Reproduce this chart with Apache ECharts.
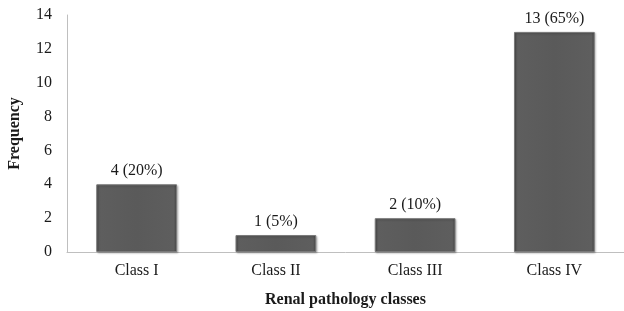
<!DOCTYPE html>
<html>
<head>
<meta charset="utf-8">
<script src="https://cdn.jsdelivr.net/npm/echarts@6/dist/echarts.min.js"></script>
<style>
html,body{margin:0;padding:0;background:#fff;}
#chart{width:624px;height:311px;}
</style>
</head>
<body>
<div id="chart"></div>
<script>
// data
var categories = ["Class I", "Class II", "Class III", "Class IV"];
var counts = [4, 1, 2, 13];
var percents = ["20%", "5%", "10%", "65%"];
var yTicks = [0, 2, 4, 6, 8, 10, 12, 14];

var font = "'Liberation Serif', 'Times New Roman', serif";
var myChart = echarts.init(document.getElementById("chart"));

var option = {
	animation: false,
	grid: {left: 67, right: 0, top: 15, bottom: 59, outerBoundsMode: "none", containLabel: false},
	xAxis: {
		type: "category",
		data: categories,
		name: "Renal pathology classes",
		nameLocation: "middle",
		nameGap: 40,
		nameTextStyle: {fontFamily: font, fontSize: 16, fontWeight: "bold", color: "#1a1a1a"},
		axisLine: {lineStyle: {color: "#bfbfbf", width: 1}},
		axisTick: {show: false},
		axisLabel: {fontFamily: font, fontSize: 16, color: "#1a1a1a", margin: 11}
	},
	yAxis: {
		type: "value",
		min: yTicks[0],
		max: yTicks[yTicks.length - 1],
		interval: 2,
		name: "Frequency",
		nameLocation: "middle",
		nameGap: 44,
		nameTextStyle: {fontFamily: font, fontSize: 16, fontWeight: "bold", color: "#1a1a1a"},
		axisLine: {show: true, lineStyle: {color: "#bfbfbf", width: 1}},
		axisTick: {show: false},
		splitLine: {show: false},
		axisLabel: {fontFamily: font, fontSize: 16, color: "#1a1a1a", margin: 15}
	},
	series: [{
		type: "bar",
		data: counts,
		barWidth: "58%",
		itemStyle: {
			color: new echarts.graphic.LinearGradient(0, 0, 1, 0, [
				{offset: 0, color: "#4a4a4a"},
				{offset: 0.04, color: "#5e5e5e"},
				{offset: 0.5, color: "#5a5a5a"},
				{offset: 0.96, color: "#5e5e5e"},
				{offset: 1, color: "#444"}
			]),
			borderColor: "#7a7a7a",
			borderWidth: 1,
			shadowColor: "rgba(0,0,0,0.25)",
			shadowBlur: 2,
			shadowOffsetX: 1,
			shadowOffsetY: 1
		},
		label: {
			show: true,
			position: "top",
			distance: 5,
			fontFamily: font,
			fontSize: 16,
			color: "#1a1a1a",
			formatter: function(p){
				return p.value + " (" + percents[p.dataIndex] + ")";
			}
		}
	}]
};
myChart.setOption(option);
</script>
</body>
</html>
